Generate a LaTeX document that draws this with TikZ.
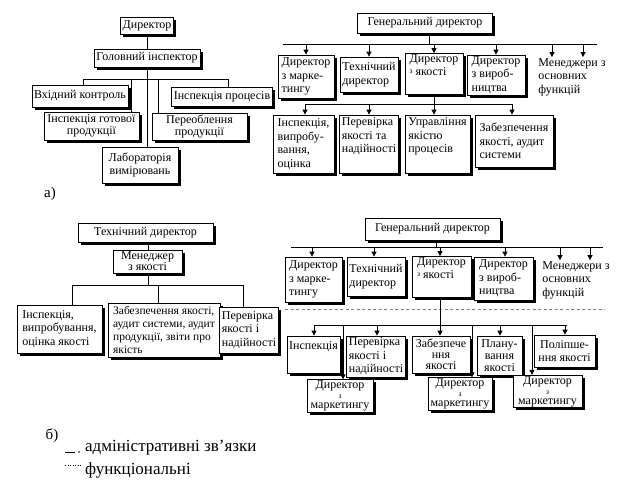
\documentclass[tikz,border=0pt]{standalone}
\usepackage{fontspec}
\setmainfont{Liberation Serif}
\usetikzlibrary{arrows.meta,shadows,backgrounds}
\newcommand\smz{{\fontsize{7.5}{7.5}\selectfont з}}
\begin{document}
\begin{tikzpicture}[x=1pt,y=-1pt,
 box/.style={draw,fill=white,line width=0.8pt,inner xsep=2pt,inner ysep=1pt,align=center,
   font=\fontsize{12}{13.5}\selectfont,
   drop shadow={shadow xshift=2.5pt,shadow yshift=-2.5pt,fill=black,opacity=1}},
 lbox/.style={box,align=left},
 sz/.style 2 args={minimum width=#1pt,minimum height=#2pt},
 ln/.style={line width=0.8pt},
 arr/.style={ln,-{Triangle[length=5pt,width=5pt]}},
 txt/.style={align=left,inner sep=1pt,font=\fontsize{12}{13.5}\selectfont},
 lbl/.style={inner sep=0pt,font=\fontsize{15}{15}\selectfont},
 leg/.style={inner sep=0pt,font=\fontsize{17}{17}\selectfont},
 fdash/.style={gray,line width=0.7pt,dash pattern=on 3pt off 2.5pt},
 mk/.style={box,font=\fontsize{12}{10}\selectfont}]
\useasboundingbox (0,0) rectangle (624,482);

% ---------------- a) left ----------------
\node[box,sz={52}{17}] (dir) at (147,25.5) {Директор};
\node[box,sz={106}{18}] (gi) at (147,58) {Головний інспектор};
\node[box,sz={96}{22}] (vin) at (80,96) {Вхідний контроль};
\node[box,sz={100}{19}] (ipr) at (222,96.5) {Інспекція процесів};
\node[box,sz={95}{28},font=\fontsize{12}{12}\selectfont] (igp) at (91.5,126) {Інспекція готової\\продукції};
\node[box,sz={95}{27},font=\fontsize{12}{12}\selectfont] (per) at (199.5,126.5) {Переоблення\\продукції};
\node[box,sz={76}{36}] (lab) at (140,165) {Лабораторія\\вимірювань};
\node[lbl] (la) at (50,194) {а)};
\coordinate (busA1) at (83,79);
\coordinate (busA2) at (228,79);

% ---------------- a) right ----------------
\node[box,sz={135}{20}] (gd1) at (425,23) {Генеральний директор};
\node[lbox,sz={56}{43}] (dm1a) at (306,76.5) {Директор\\з марке-\\тингу};
\node[lbox,sz={58}{35}] (td1) at (369,74.5) {Технічний\\директор};
\node[lbox,sz={58}{38}] (dq1) at (434,74) {Директор\\\raisebox{2pt}{\smz} якості\\\strut};
\node[lbox,sz={58}{40}] (dv1) at (496,75) {Директор\\з вироб-\\ництва};
\node[txt] (mgr1) at (572,77) {Менеджери з\\основних\\функцій};
\node[lbox,sz={61}{58}] (i1) at (303.5,144) {Інспекція,\\випробу-\\вання,\\оцінка};
\node[lbox,sz={58}{58}] (i2) at (369,144) {Перевірка\\якості та\\надійності\\\strut};
\node[lbox,sz={65}{58}] (i3) at (437.5,144) {Управління\\якістю\\процесів\\\strut};
\node[lbox,sz={78}{52}] (i4) at (514,141) {Забезпечення\\якості, аудит\\системи};
\coordinate (busB1) at (283,44);
\coordinate (busB2) at (597,44);
\coordinate (busC1) at (305,104);
\coordinate (busC2) at (512,104);

% ---------------- b) left ----------------
\node[box,sz={135}{19}] (td2) at (145.5,232.5) {Технічний директор};
\node[box,sz={69}{23},font=\fontsize{12}{11}\selectfont] (mq) at (147.5,261.5) {Менеджер\\з якості};
\node[lbox,sz={85}{48}] (bl1) at (59.5,329) {Інспекція,\\випробування,\\оцінка якості};
\node[lbox,sz={112}{54},font=\fontsize{11.5}{13}\selectfont] (bl2) at (164,330) {Забезпечення якості,\\аудит системи, аудит\\продукції, звіти про\\якість};
\node[lbox,sz={58}{46}] (bl3) at (249,330) {Перевірка\\якості і\\надійності};
\coordinate (busD1) at (72,285);
\coordinate (busD2) at (243,285);

% ---------------- b) right ----------------
\node[box,sz={135}{22}] (gd2) at (432.5,229) {Генеральний директор};
\node[lbox,sz={57}{45}] (r1a) at (313.5,279.5) {Директор\\з марке-\\тингу};
\node[lbox,sz={58}{39}] (r1b) at (376,276.5) {Технічний\\директор};
\node[lbox,sz={59}{40}] (r1c) at (441.5,277) {Директор\\\raisebox{2pt}{\smz} якості\\\strut};
\node[lbox,sz={59}{43}] (r1d) at (503.5,278.5) {Директор\\з вироб-\\ництва};
\node[txt] (mgr2) at (576,280) {Менеджери з\\основних\\функцій};
\node[lbox,sz={53}{37}] (r2a) at (313.5,354.5) {Інспекція\\\strut};
\node[lbox,sz={58}{41}] (r2b) at (376,356.5) {Перевірка\\якості і\\надійності};
\node[box,sz={58}{37},font=\fontsize{12}{11}\selectfont] (r2c) at (441,354.5) {Забезпече\\ння\\якості};
\node[box,sz={45}{39},font=\fontsize{12}{12}\selectfont] (r2d) at (499.5,355.5) {Плану-\\вання\\якості};
\node[box,sz={61}{32}] (r2e) at (564.5,351) {Поліпше-\\ння якості};
\node[mk,sz={66}{32}] (dm1) at (340,396) {Директор\\\smz\\маркетингу};
\node[mk,sz={64}{32}] (dm2) at (460,394) {Директор\\\smz\\маркетингу};
\node[mk,sz={69}{31}] (dm3) at (547.5,391.5) {Директор\\\smz\\маркетингу};
\coordinate (busE1) at (291,247);
\coordinate (busE2) at (603,247);
\coordinate (dotL) at (285,309);
\coordinate (dotR) at (605,309);
\coordinate (busF1) at (314,325);
\coordinate (busF2) at (567,325);

% legend
\node[lbl] (lb) at (52,436) {б)};
\node[leg,anchor=west] (lg1) at (85,448) {адміністративні зв'язки};
\node[leg,anchor=west] (lg2) at (85,470) {функціональні};
\coordinate (s1a) at (65,452);
\coordinate (s1b) at (75,452);
\coordinate (s2a) at (65,465);
\coordinate (s2b) at (81,465);
\draw[line width=0.9pt] (s1a) -- (s1b);
\fill ([xshift=4pt]s1b) circle (0.9);
\draw[line width=0.7pt,dash pattern=on 1pt off 1.5pt] (s2a) -- (s2b);

\begin{pgfonlayer}{background}
 % a) left
 \draw[ln] (dir) -- (gi);
 \draw[ln] (busA1) -- (busA2);
 \draw[ln] (gi.south) -- (gi.south |- lab.north);
 \draw[ln] ([xshift=3pt]vin.north |- busA1) -- ([xshift=3pt]vin.north);
 \draw[ln] ([xshift=6pt]ipr.north |- busA1) -- ([xshift=6pt]ipr.north);
 \draw[ln] ([xshift=39.5pt]igp.north |- busA1) -- ([xshift=39.5pt]igp.north);
 \draw[ln] ([xshift=-41.5pt]per.north |- busA1) -- ([xshift=-41.5pt]per.north);
 % a) right
 \draw[ln] ([xshift=4pt]gd1.south) -- ([xshift=4pt]gd1.south |- busB1);
 \draw[ln] (busB1) -- (busB2);
 \draw[arr] (dm1a.north |- busB1) -- (dm1a.north);
 \draw[arr] (td1.north |- busB1) -- (td1.north);
 \draw[arr] (dq1.north |- busB1) -- (dq1.north);
 \draw[arr] (dv1.north |- busB1) -- (dv1.north);
 \draw[arr] ([xshift=-20pt]mgr1.north |- busB1) -- ([xshift=-20pt]mgr1.north);
 \draw[arr] ([xshift=11pt]mgr1.north |- busB1) -- ([xshift=11pt]mgr1.north);
 \draw[ln] (dq1.south) -- (dq1.south |- busC1);
 \draw[ln] (busC1) -- (busC2);
 \draw[arr] ([xshift=1.5pt]i1.north |- busC1) -- ([xshift=1.5pt]i1.north);
 \draw[arr] (i2.north |- busC1) -- (i2.north);
 \draw[arr] (dq1.south |- i3.north) ++(0,-11) -- (dq1.south |- i3.north);
 \draw[arr] ([xshift=-2pt]i4.north |- busC1) -- ([xshift=-2pt]i4.north);
 % b) left
 \draw[ln] ([xshift=2.5pt]td2.south) -- ([xshift=2.5pt]td2.south |- mq.north);
 \draw[ln] ([xshift=0.5pt]mq.south) -- ([xshift=0.5pt]mq.south |- busD1);
 \draw[ln] (busD1) -- (busD2);
 \draw[ln] ([xshift=12.5pt]bl1.north |- busD1) -- ([xshift=12.5pt]bl1.north);
 \draw[ln] ([xshift=-6pt]bl2.north |- busD1) -- ([xshift=-6pt]bl2.north);
 \draw[ln] ([xshift=-6pt]bl3.north |- busD1) -- ([xshift=-6pt]bl3.north);
 % b) right
 \draw[ln] ([xshift=3.5pt]gd2.south) -- ([xshift=3.5pt]gd2.south |- busE1);
 \draw[ln] (busE1) -- (busE2);
 \draw[arr] ([xshift=-1.5pt]r1a.north |- busE1) -- ([xshift=-1.5pt]r1a.north);
 \draw[arr] ([xshift=-2pt]r1b.north |- busE1) -- ([xshift=-2pt]r1b.north);
 \draw[arr] ([xshift=-1.5pt]r1c.north |- busE1) -- ([xshift=-1.5pt]r1c.north);
 \draw[arr] ([xshift=1.5pt]r1d.north |- busE1) -- ([xshift=1.5pt]r1d.north);
 \draw[arr] ([xshift=-16pt]mgr2.north |- busE1) -- ([xshift=-16pt]mgr2.north);
 \draw[arr] ([xshift=14pt]mgr2.north |- busE1) -- ([xshift=14pt]mgr2.north);
 \draw[fdash] (dotL) -- (dotR);
 \draw[ln] ([xshift=-1.5pt]r1c.south) -- ([xshift=-1.5pt]r1c.south |- busF1);
 \draw[ln] (busF1) -- (busF2);
 \draw[arr] ([xshift=0.5pt]r2a.north |- busF1) -- ([xshift=0.5pt]r2a.north);
 \draw[arr] ([xshift=1pt]r2b.north |- busF1) -- ([xshift=1pt]r2b.north);
 \draw[arr] ([xshift=-1pt]r2c.north |- busF1) -- ([xshift=-1pt]r2c.north);
 \draw[arr] ([xshift=0.5pt]r2d.north |- busF1) -- ([xshift=0.5pt]r2d.north);
 \draw[arr] ([xshift=0.5pt]r2e.north |- busF1) -- ([xshift=0.5pt]r2e.north);
 \draw[arr] ([xshift=3pt]dm1.north |- busF1) -- ([xshift=3pt]dm1.north);
 \draw[arr] ([xshift=12pt]dm2.north |- busF1) -- ([xshift=12pt]dm2.north);
 \draw[arr] ([xshift=-15.5pt]dm3.north |- busF1) -- ([xshift=-15.5pt]dm3.north);
\end{pgfonlayer}
\end{tikzpicture}
\end{document}
